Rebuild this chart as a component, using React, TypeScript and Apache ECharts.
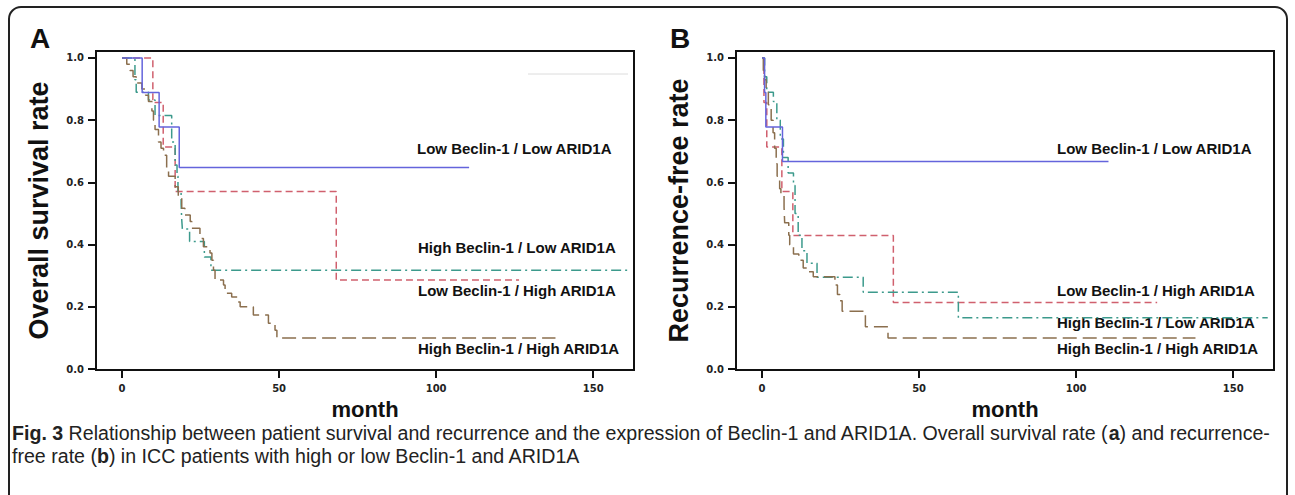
import React, { useEffect, useRef } from "react";
import * as echarts from "echarts";

// ---- data ----
const xTicks = [0, 50, 100, 150];
const yTicks = [0, 0.2, 0.4, 0.6, 0.8, 1.0];
const groupNames = [
  "Low Beclin-1 / Low ARID1A",
  "Low Beclin-1 / High ARID1A",
  "High Beclin-1 / Low ARID1A",
  "High Beclin-1 / High ARID1A",
];

// Panel A: overall survival
const osLowLowT = [0, 6.4, 11.8, 18.2, 110.5];
const osLowLowS = [1.0, 0.889, 0.778, 0.648, 0.648];
const osLowHighT = [0, 9.8, 13.1, 16.9, 68.2, 126.4];
const osLowHighS = [1.0, 0.857, 0.714, 0.571, 0.286, 0.286];
const osHighLowT = [0, 4.1, 4.5, 8.4, 10.5, 15.8, 16.9, 17.5, 17.8, 18.8, 19.0, 19.2, 21.5, 26.2, 28.3, 162];
const osHighLowS = [1.0, 0.93, 0.89, 0.865, 0.815, 0.73, 0.656, 0.62, 0.57, 0.53, 0.48, 0.45, 0.41, 0.36, 0.318, 0.318];
const osHighHighT = [0, 1.5, 2.5, 3.5, 4.5, 6.3, 7.5, 8.4, 9.5, 10.0, 10.5, 11.6, 12.4, 13.2, 14.2, 14.8, 16.9, 17.9, 19.0, 20.0, 21.7, 22.2, 24.8, 25.9, 28.0, 28.6, 29.1, 29.6, 32.3, 32.8, 34.9, 36.9, 37.6, 41.8, 46.6, 48.7, 49.3, 138];
const osHighHighS = [1.0, 0.98, 0.96, 0.94, 0.92, 0.9, 0.88, 0.86, 0.83, 0.8, 0.77, 0.73, 0.71, 0.687, 0.64, 0.62, 0.586, 0.554, 0.517, 0.495, 0.474, 0.453, 0.42, 0.393, 0.373, 0.35, 0.318, 0.286, 0.27, 0.244, 0.232, 0.216, 0.2, 0.174, 0.147, 0.125, 0.1, 0.1];

// Panel B: recurrence-free
const rfLowLowT = [0, 0.8, 1.2, 6.5, 110.3];
const rfLowLowS = [1.0, 0.889, 0.778, 0.667, 0.667];
const rfLowHighT = [0, 0.6, 1.5, 6.3, 9.8, 41.8, 125.8];
const rfLowHighS = [1.0, 0.857, 0.714, 0.571, 0.429, 0.214, 0.214];
const rfHighLowT = [0, 0.8, 1.5, 3.6, 4.7, 5.8, 6.8, 8.3, 10.0, 10.5, 11.5, 12.7, 14.3, 17.5, 32.2, 62.5, 161];
const rfHighLowS = [1.0, 0.94, 0.89, 0.86, 0.8, 0.74, 0.68, 0.63, 0.59, 0.5, 0.43, 0.38, 0.34, 0.295, 0.247, 0.165, 0.165];
const rfHighHighT = [0, 0.4, 0.8, 1.3, 2.0, 2.9, 3.5, 4.0, 4.5, 4.8, 5.6, 6.0, 7.0, 7.2, 8.5, 8.8, 10.0, 11.7, 13.1, 14.5, 16.3, 23.2, 24.0, 24.8, 25.5, 32.9, 40.1, 138];
const rfHighHighS = [1.0, 0.96, 0.93, 0.89, 0.85, 0.8, 0.76, 0.71, 0.66, 0.62, 0.58, 0.56, 0.52, 0.47, 0.43, 0.4, 0.37, 0.35, 0.325, 0.313, 0.297, 0.27, 0.24, 0.22, 0.186, 0.136, 0.1, 0.1];

const captionLine1 =
  "{b|Fig. 3} Relationship between patient survival and recurrence and the expression of Beclin-1 and ARID1A. Overall survival rate ({b|a}) and recurrence-";
const captionLine2 = "free rate ({b|b}) in ICC patients with high or low Beclin-1 and ARID1A";

const zip = (t: number[], s: number[]) => t.map((x, i) => [x, s[i]]);

const colors = ["#6464dc", "#d0606e", "#3c9a8c", "#8b6f4e"];
const dashes: any[] = ["solid", [7, 4], [10, 4, 2, 4], [14, 6]];

function makeSeries(idx: number, sets: [number[], number[]][]) {
  return sets.map(([t, s], i) => ({
    type: "line",
    name: groupNames[i],
    xAxisIndex: idx,
    yAxisIndex: idx,
    step: "end",
    symbol: "none",
    showSymbol: false,
    data: zip(t, s),
    lineStyle: { color: colors[i], width: 1.5, type: dashes[i] },
    z: i === 0 ? 5 : 3,
  }));
}

const tickFont = { fontFamily: "DejaVu Sans", fontWeight: "bold", fontSize: 10, color: "#222" };

function xAxis(idx: number) {
  return {
    type: "value",
    gridIndex: idx,
    min: -8.3,
    max: 163,
    name: "month",
    nameLocation: "middle",
    nameGap: 28,
    nameTextStyle: { fontFamily: "Liberation Sans", fontWeight: "bold", fontSize: 22, color: "#111", lineHeight: 22 },
    axisLine: { show: true, onZero: false, lineStyle: { color: "#111", width: 2 } },
    axisTick: { show: true, length: 8, customValues: xTicks, lineStyle: { color: "#111", width: 2 } },
    axisLabel: { ...tickFont, margin: 13, customValues: xTicks },
    splitLine: { show: false },
  };
}

function yAxis(idx: number, name: string) {
  return {
    type: "value",
    gridIndex: idx,
    min: -0.003,
    max: 1.0225,
    name,
    nameLocation: "middle",
    nameGap: 44,
    nameTextStyle: { fontFamily: "Liberation Sans", fontWeight: "bold", fontSize: 27, color: "#111" },
    axisLine: { show: true, onZero: false, lineStyle: { color: "#111", width: 2 } },
    axisTick: { show: true, length: 8, customValues: yTicks, lineStyle: { color: "#111", width: 2 } },
    axisLabel: { ...tickFont, margin: 12, customValues: yTicks, formatter: (v: number) => v.toFixed(1) },
    splitLine: { show: false },
  };
}

const labelFont = 'bold 15px "Liberation Sans"';
function label(text: string, x: number, y: number) {
  return { type: "text", x, y, style: { text, font: labelFont, fill: "#111", verticalAlign: "middle" } };
}

const capFont = "Liberation Sans";
const capSize = 19.6;
function caption(text: string, y: number) {
  return {
    type: "text",
    x: 12,
    y,
    style: {
      text,
      fontFamily: capFont,
      fontSize: capSize,
      lineHeight: 21,
      fill: "#222",
      verticalAlign: "middle",
      rich: {
        b: { fontFamily: capFont, fontSize: capSize, fontWeight: "bold", fill: "#222", lineHeight: 21 },
      },
    },
  };
}

export default function App() {
  const ref = useRef<HTMLDivElement>(null);
  useEffect(() => {
    if (!ref.current) return;
    const chart = echarts.init(ref.current, undefined, { renderer: "svg" });
    const option: any = {
      animation: false,
      backgroundColor: "#fff",
      grid: [
        { left: 96, top: 51, width: 538, height: 319, show: true, borderColor: "#111", borderWidth: 2 },
        { left: 736, top: 51, width: 538, height: 319, show: true, borderColor: "#111", borderWidth: 2 },
      ],
      xAxis: [xAxis(0), xAxis(1)],
      yAxis: [yAxis(0, "Overall survival rate"), yAxis(1, "Recurrence-free rate")],
      series: [
        ...makeSeries(0, [
          [osLowLowT, osLowLowS],
          [osLowHighT, osLowHighS],
          [osHighLowT, osHighLowS],
          [osHighHighT, osHighHighS],
        ]),
        ...makeSeries(1, [
          [rfLowLowT, rfLowLowS],
          [rfLowHighT, rfLowHighS],
          [rfHighLowT, rfHighLowS],
          [rfHighHighT, rfHighHighS],
        ]),
      ],
      graphic: [
        {
          type: "rect",
          shape: { x: 9, y: 7, width: 1278, height: 520, r: 12 },
          style: { fill: "none", stroke: "#222", lineWidth: 2 },
          z: 100,
        },
        { type: "text", x: 30, y: 38, style: { text: "A", font: 'bold 28px "Liberation Sans"', fill: "#111", verticalAlign: "middle" } },
        { type: "text", x: 670, y: 38, style: { text: "B", font: 'bold 28px "Liberation Sans"', fill: "#111", verticalAlign: "middle" } },
        { type: "line", shape: { x1: 528, y1: 74, x2: 628, y2: 74 }, style: { stroke: "#dcdcdc", lineWidth: 1 } },
        label(groupNames[0], 417, 148),
        label(groupNames[2], 418, 247),
        label(groupNames[1], 418, 290),
        label(groupNames[3], 418, 348),
        label(groupNames[0], 1057, 148),
        label(groupNames[1], 1057, 290),
        label(groupNames[2], 1057, 322),
        label(groupNames[3], 1057, 348),
        caption(captionLine1, 433),
        caption(captionLine2, 456),
      ],
    };
    chart.setOption(option);
    return () => chart.dispose();
  }, []);
  return (
    <div
      ref={ref}
      style={{ position: "absolute", left: 0, top: 0, width: 1295, height: 495 }}
    />
  );
}
